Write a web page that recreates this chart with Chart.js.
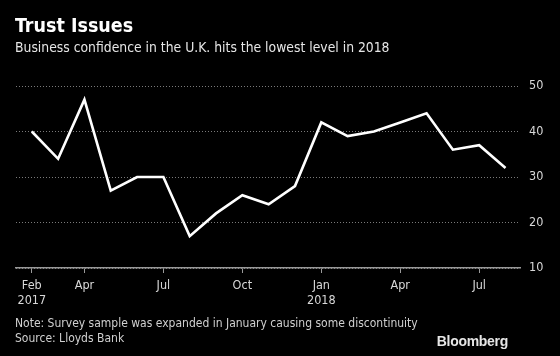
<!DOCTYPE html>
<html><head><meta charset="utf-8">
<script src="https://cdn.jsdelivr.net/npm/chart.js@4/dist/chart.umd.min.js"></script>
<style>
html,body{margin:0;padding:0;background:#000;}
#wrap{position:relative;width:560px;height:356px;background:#000;overflow:hidden;font-family:"DejaVu Sans Condensed","DejaVu Sans",sans-serif;}
canvas{position:absolute;left:0;top:0;}
.t{position:absolute;white-space:nowrap;color:#e6e6e6;}
#title{left:15px;top:14px;font-size:19.5px;font-weight:bold;color:#fff;}
#sub{left:15px;top:39px;font-size:13.8px;}
#note{left:15px;top:316px;font-size:12px;line-height:15px;color:#d0d0d0;}
#logo{right:52px;top:333px;font-family:"Liberation Sans",Arial,sans-serif;font-weight:bold;font-size:14px;color:#e6e6e6;letter-spacing:-0.3px;}
</style></head>
<body><div id="wrap">
<canvas id="c" width="560" height="356"></canvas>
<div class="t" id="title">Trust Issues</div>
<div class="t" id="sub">Business confidence in the U.K. hits the lowest level in 2018</div>
<div class="t" id="note">Note: Survey sample was expanded in January causing some discontinuity<br>Source: Lloyds Bank</div>
<div class="t" id="logo">Bloomberg</div>
</div>
<script>
const months = ["Feb 2017","Mar 2017","Apr 2017","May 2017","Jun 2017","Jul 2017","Aug 2017","Sep 2017","Oct 2017","Nov 2017","Dec 2017","Jan 2018","Feb 2018","Mar 2018","Apr 2018","May 2018","Jun 2018","Jul 2018","Aug 2018"];
const confidence = [40,34,47,27,30,30,17,22,26,24,28,42,39,40,42,44,36,37,32];
const tickIndices = [0,2,5,8,11,14,17];
const tickLabels = [["Feb","2017"],"Apr","Jul","Oct",["Jan","2018"],"Apr","Jul"];
const yTicks = [10,20,30,40,50];

const points = confidence.map((v,i)=>({x:i,y:v}));
const tickFont = {family:"'DejaVu Sans Condensed','DejaVu Sans',sans-serif", size:12.5};

new Chart(document.getElementById('c'), {
  type:'line',
  data:{datasets:[{data:points,borderColor:'#ffffff',borderWidth:2.6,pointRadius:0,tension:0,fill:false}]},
  options:{
    responsive:false,animation:false,
    layout:{padding:{left:16,top:86,right:0,bottom:0}},
    plugins:{legend:{display:false},tooltip:{enabled:false}},
    scales:{
      x:{type:'linear',min:-0.6,max:18.55,
        afterBuildTicks:(s)=>{s.ticks=tickIndices.map(v=>({value:v}));},
        afterFit:(s)=>{s.height=88;},
        ticks:{color:'#d8d8d8',font:tickFont,maxRotation:0,autoSkip:false,padding:5,
          callback:(v)=>{const k=tickIndices.indexOf(v);return k>=0?tickLabels[k]:'';}},
        grid:{drawOnChartArea:false,drawTicks:true,tickLength:5,color:'#9a9a9a',lineWidth:1},
        border:{display:true,color:'#9a9a9a',width:1.5}
      },
      y:{position:'right',min:10,max:50,
        afterBuildTicks:(s)=>{s.ticks=yTicks.map(v=>({value:v}));},
        afterFit:(s)=>{s.width=40;},
        ticks:{color:'#d8d8d8',font:tickFont,padding:9},
        grid:{color:'#7a7a7a',lineWidth:1,drawTicks:false,borderDash:[1,2]},
        border:{display:false,dash:[1,2]}
      }
    }
  }
});
</script>
</body></html>
